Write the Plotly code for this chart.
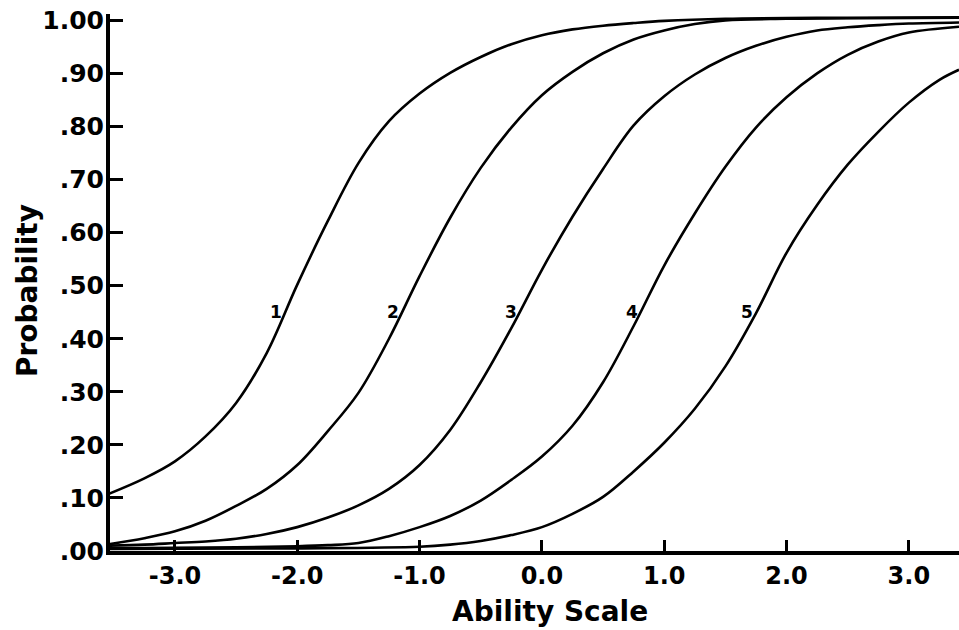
import numpy as np
import plotly.graph_objects as go

# ---- data ----
curve_names = ["1", "2", "3", "4", "5"]

curve1_theta = [-3.56, -3.25, -3.00, -2.75, -2.50, -2.25, -2.00, -1.75, -1.50, -1.25, -1.00, -0.75, -0.50, -0.25, 0.00, 0.25, 0.50, 0.75, 1.00, 1.50, 2.50, 3.41]
curve1_p = [0.106, 0.137, 0.169, 0.216, 0.279, 0.373, 0.502, 0.622, 0.731, 0.810, 0.862, 0.901, 0.931, 0.955, 0.972, 0.983, 0.990, 0.995, 0.999, 1.003, 1.005, 1.006]

curve2_theta = [-3.56, -3.25, -3.00, -2.75, -2.50, -2.25, -2.00, -1.75, -1.50, -1.25, -1.00, -0.75, -0.50, -0.25, 0.00, 0.25, 0.50, 0.75, 1.00, 1.25, 1.50, 2.00, 3.41]
curve2_p = [0.012, 0.024, 0.037, 0.057, 0.085, 0.117, 0.162, 0.226, 0.298, 0.400, 0.518, 0.628, 0.722, 0.798, 0.859, 0.903, 0.938, 0.964, 0.981, 0.993, 1.000, 1.003, 1.005]

curve3_theta = [-3.56, -3.25, -3.00, -2.75, -2.50, -2.25, -2.00, -1.75, -1.50, -1.25, -1.00, -0.75, -0.50, -0.25, 0.00, 0.25, 0.50, 0.75, 1.00, 1.25, 1.50, 1.75, 2.00, 2.25, 2.50, 2.75, 3.00, 3.41]
curve3_p = [0.010, 0.012, 0.015, 0.018, 0.023, 0.032, 0.045, 0.063, 0.086, 0.117, 0.162, 0.228, 0.318, 0.420, 0.530, 0.630, 0.720, 0.802, 0.857, 0.898, 0.929, 0.952, 0.969, 0.981, 0.987, 0.991, 0.994, 0.996]

curve4_theta = [-3.56, -2.50, -2.00, -1.75, -1.50, -1.25, -1.00, -0.75, -0.50, -0.25, 0.00, 0.25, 0.50, 0.75, 1.00, 1.25, 1.50, 1.75, 2.00, 2.25, 2.50, 2.75, 3.00, 3.41]
curve4_p = [0.005, 0.007, 0.009, 0.011, 0.015, 0.028, 0.045, 0.066, 0.095, 0.134, 0.178, 0.236, 0.318, 0.424, 0.538, 0.636, 0.724, 0.798, 0.855, 0.900, 0.935, 0.960, 0.977, 0.988]

curve5_theta = [-3.56, -2.00, -1.00, -0.75, -0.50, -0.25, 0.00, 0.25, 0.50, 0.75, 1.00, 1.25, 1.50, 1.75, 2.00, 2.25, 2.50, 2.75, 3.00, 3.25, 3.41]
curve5_p = [0.004, 0.005, 0.008, 0.012, 0.019, 0.030, 0.045, 0.070, 0.102, 0.150, 0.204, 0.268, 0.348, 0.448, 0.562, 0.652, 0.728, 0.790, 0.845, 0.888, 0.907]

x_tick_values = [-3.0, -2.0, -1.0, 0.0, 1.0, 2.0, 3.0]
x_tick_labels = ["-3.0", "-2.0", "-1.0", "0.0", "1.0", "2.0", "3.0"]
y_tick_values = [0.0, 0.1, 0.2, 0.3, 0.4, 0.5, 0.6, 0.7, 0.8, 0.9, 1.0]
y_tick_labels = [".00", ".10", ".20", ".30", ".40", ".50", ".60", ".70", ".80", ".90", "1.00"]

x_title = "Ability Scale"
y_title = "Probability"
label_level = 0.45

curves = [
    (curve1_theta, curve1_p),
    (curve2_theta, curve2_p),
    (curve3_theta, curve3_p),
    (curve4_theta, curve4_p),
    (curve5_theta, curve5_p),
]

FONT = "DejaVu Sans"

fig = go.Figure()
for name, (th, p) in zip(curve_names, curves):
    fig.add_trace(go.Scatter(
        x=th, y=p, mode="lines", name=name,
        line=dict(color="black", width=2.6, shape="spline", smoothing=1.0),
        showlegend=False, hoverinfo="skip",
    ))
    # curve number placed just left of where the curve crosses the label level
    xl = float(np.interp(label_level, p, th))
    fig.add_annotation(
        x=xl, y=label_level, xref="x", yref="y", text=name, showarrow=False,
        xanchor="right", yanchor="middle", xshift=-1,
        font=dict(family=FONT, size=17, color="black", weight="bold"),
    )

fig.update_xaxes(
    range=[-3.531, 3.41], tickvals=x_tick_values, ticktext=x_tick_labels,
    showline=True, linewidth=4, linecolor="black", mirror=False,
    ticks="inside", ticklen=11, tickwidth=3, tickcolor="black",
    showgrid=False, zeroline=False, fixedrange=True, automargin=False,
    tickfont=dict(family=FONT, size=24, color="black", weight="bold"),
    ticklabelstandoff=0, ticklabeloverflow="allow",
)
fig.update_yaxes(
    range=[0, 1.012], tickvals=y_tick_values, ticktext=y_tick_labels,
    showline=True, linewidth=4, linecolor="black",
    ticks="inside", ticklen=13, tickwidth=3, tickcolor="black",
    showgrid=False, zeroline=False, fixedrange=True, automargin=False,
    tickfont=dict(family=FONT, size=25, color="black", weight="bold"),
    ticklabelstandoff=-3, ticklabeloverflow="allow",
)

fig.add_annotation(
    x=0.518, y=0, xref="paper", yref="paper", text=x_title, showarrow=False,
    xanchor="center", yanchor="middle", yshift=-60,
    font=dict(family=FONT, size=28, color="black", weight="bold"),
)
fig.add_annotation(
    x=0, y=0.484, xref="paper", yref="paper", text=y_title, showarrow=False,
    textangle=-90, xanchor="center", yanchor="middle", xshift=-83,
    font=dict(family=FONT, size=28, color="black", weight="bold"),
)

fig.update_layout(
    width=959, height=630,
    margin=dict(l=110, r=0, t=14, b=79),
    paper_bgcolor="white", plot_bgcolor="white",
)

# remove the page's default body margin so the figure fills the window exactly
fig.write_html(
    "out.html",
    config={"displayModeBar": False, "staticPlot": True},
    post_script="document.body.style.margin='0';",
)
